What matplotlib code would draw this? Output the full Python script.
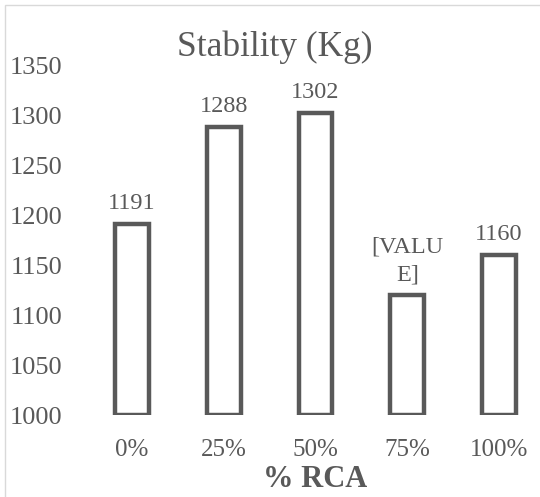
import matplotlib
matplotlib.use("Agg")
import matplotlib.pyplot as plt
from matplotlib.patches import Rectangle

categories = ["0%", "25%", "50%", "75%", "100%"]
values = [1191, 1288, 1302, 1120, 1160]
labels = ["1191", "1288", "1302", "[VALU\nE]", "1160"]
yticks = [1000, 1050, 1100, 1150, 1200, 1250, 1300, 1350]

plt.rcParams['font.family'] = ['Liberation Serif', 'DejaVu Serif']
gray = "#595959"

fig = plt.figure(figsize=(5.4, 4.97), dpi=100)
ax = fig.add_axes([86 / 540, 1 - 415 / 497, 459 / 540, 350 / 497])

x = list(range(len(categories)))
ax.bar(x, [v - 1000 for v in values], bottom=1000, width=0.37,
       facecolor="white", edgecolor=gray, linewidth=3.2)

for xi, v, lab in zip(x, values, labels):
    ax.annotate(lab, (xi, v), xytext=(0, 7), textcoords="offset points",
                ha="center", va="bottom", fontsize=17.5, color=gray,
                linespacing=1.4)

ax.set_xlim(-0.5, len(categories) - 0.5)
ax.set_ylim(1000, 1350)
ax.set_yticks(yticks)
ax.set_yticklabels([str(t) for t in yticks])
ax.set_xticks(x)
ax.set_xticklabels(categories)
ax.tick_params(axis='both', length=0, colors=gray)
ax.tick_params(axis='y', pad=17, labelsize=19)
ax.tick_params(axis='x', pad=17, labelsize=18)
for s in ax.spines.values():
    s.set_visible(False)

ax.set_xlabel("% RCA", fontsize=22, fontweight="bold", color=gray, labelpad=3)
fig.text(0.509, 0.904, "Stability (Kg)", ha="center", va="center",
         fontsize=25.5, color=gray)

fig.patches.append(Rectangle((5 / 540, -0.1), 1.2, 1 - 5 / 497 + 0.1,
                             transform=fig.transFigure, fill=False,
                             edgecolor="#d9d9d9", linewidth=1.0))

fig.savefig("out.png", dpi=100)
